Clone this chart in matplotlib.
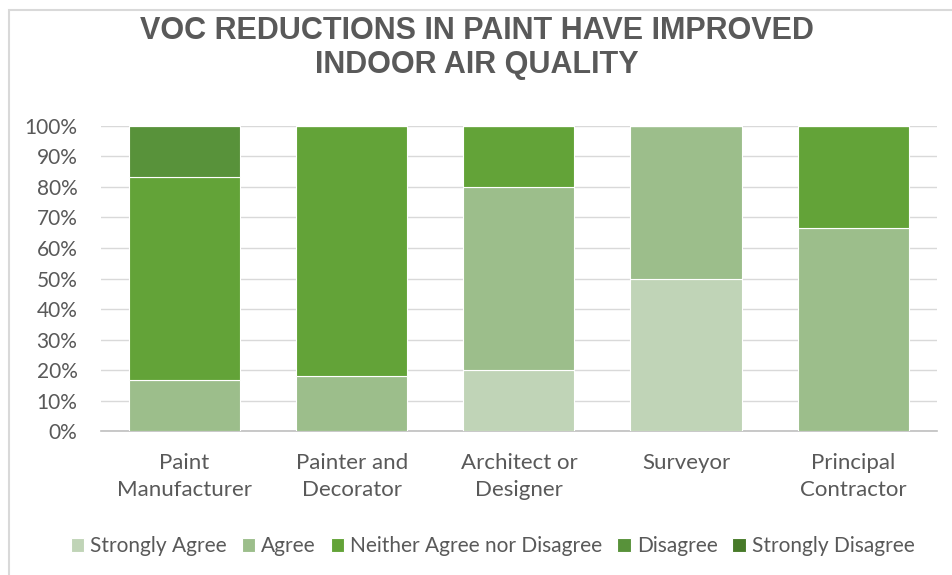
import numpy as np
import matplotlib.pyplot as plt
from matplotlib.ticker import PercentFormatter

# survey shares per respondent group (fractions of each group)
groups = ['Paint\nManufacturer', 'Painter and\nDecorator', 'Architect or\nDesigner',
          'Surveyor', 'Principal\nContractor']
responses = ['Strongly Agree', 'Agree', 'Neither Agree nor Disagree',
             'Disagree', 'Strongly Disagree']
strongly_agree = [0.0, 0.0, 0.20, 0.50, 0.0]
agree = [0.167, 0.182, 0.60, 0.50, 0.667]
neither = [0.667, 0.818, 0.20, 0.0, 0.333]
disagree = [0.166, 0.0, 0.0, 0.0, 0.0]
strongly_disagree = [0.0, 0.0, 0.0, 0.0, 0.0]

series = [strongly_agree, agree, neither, disagree, strongly_disagree]
colors = ['#c0d4b7', '#9cbe8b', '#63a338', '#58923a', '#477a29']

plt.rcParams['font.family'] = ['Lato', 'DejaVu Sans']
text_col = '#595959'

fig = plt.figure(figsize=(9.53, 5.75), dpi=100)
ax = fig.add_axes([0.106, 0.2504, 0.877, 0.5305])

x = np.arange(len(groups))
bottom = np.zeros(len(groups))
for name, vals, col in zip(responses, series, colors):
    vals = np.array(vals)
    ax.bar(x, vals, width=0.665, bottom=bottom, color=col, label=name,
           edgecolor='white', linewidth=0.8, zorder=3)
    bottom += vals

ax.set_xlim(-0.5, len(groups) - 0.5)
ax.set_ylim(0, 1)
ax.set_yticks(np.arange(0, 1.01, 0.1))
ax.yaxis.set_major_formatter(PercentFormatter(1.0, decimals=0))
ax.set_xticks(x)
ax.set_xticklabels(groups, linespacing=1.4, fontsize=16)
ax.grid(axis='y', color='#d9d9d9', linewidth=1, zorder=0)
for side in ['top', 'right', 'left']:
    ax.spines[side].set_visible(False)
ax.spines['bottom'].set_color('#bfbfbf')
ax.spines['bottom'].set_linewidth(1.2)
ax.tick_params(axis='both', length=0, colors=text_col)
ax.tick_params(axis='y', labelsize=15, pad=17)
ax.tick_params(axis='x', pad=16)

fig.text(0.5, 0.9165, 'VOC REDUCTIONS IN PAINT HAVE IMPROVED\nINDOOR AIR QUALITY',
         ha='center', va='center', fontsize=22, fontweight='bold', color=text_col,
         family=['Liberation Sans', 'DejaVu Sans'], linespacing=1.15)

fig.legend(loc='center', bbox_to_anchor=(0.517, 0.05), ncol=5,
           frameon=False, fontsize=15, handlelength=0.65, handleheight=0.65,
           handletextpad=0.3, columnspacing=0.7, labelcolor=text_col)

# light frame around the chart area
fig.patches.append(plt.Rectangle((0.0095, -0.01), 1.0, 0.993, transform=fig.transFigure,
                                 fill=False, edgecolor='#d9d9d9', linewidth=1.5))

fig.savefig('out.png', dpi=100)
